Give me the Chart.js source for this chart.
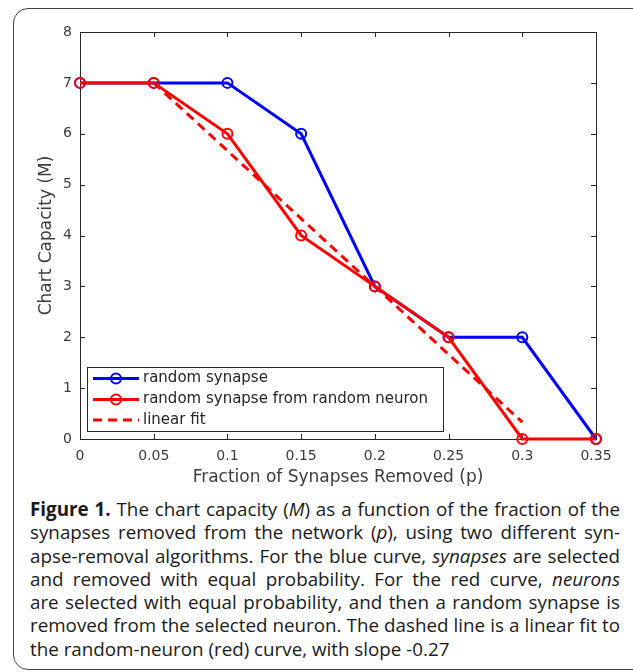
<!DOCTYPE html>
<html>
<head>
<meta charset="utf-8">
<script src="https://cdn.jsdelivr.net/npm/chart.js@4.4.1/dist/chart.umd.min.js"></script>
<style>
  body { margin: 0; background: #fff; width: 633px; height: 672px; overflow: hidden; position: relative; }
  #frame { position: absolute; left: 13px; top: 8px; width: 640px; height: 662px; box-sizing: border-box;
           border: 1.5px solid #444; border-radius: 15px; }
  #wrap { position: absolute; left: 0; top: 0; width: 633px; height: 495px; }
  #caption { position: absolute; left: 30px; top: 498px; width: 590px; font-family: "Open Sans", sans-serif;
             font-size: 18.8px; line-height: 23.3px; color: #1a1a1a; }
  #caption div { text-align: justify; text-align-last: justify; white-space: nowrap; }
  #caption div.last { text-align-last: left; }
</style>
</head>
<body>
<div id="frame"></div>
<div id="wrap"><canvas id="chart" width="633" height="495"></canvas></div>
<div id="caption">
  <div><b>Figure 1.</b> The chart capacity (<i>M</i>) as a function of the fraction of the</div>
  <div>synapses removed from the network (<i>p</i>), using two different syn-</div>
  <div>apse-removal algorithms. For the blue curve, <i>synapses</i> are selected</div>
  <div>and removed with equal probability. For the red curve, <i>neurons</i></div>
  <div>are selected with equal probability, and then a random synapse is</div>
  <div>removed from the selected neuron. The dashed line is a linear fit to</div>
  <div class="last">the random-neuron (red) curve, with slope -0.27</div>
</div>
<script>
// veriler
const pValues = [0, 0.05, 0.1, 0.15, 0.2, 0.25, 0.3, 0.35];
const randomSynapse = [7, 7, 7, 6, 3, 2, 2, 0];
const randomNeuron = [7, 7, 6, 4, 3, 2, 0, 0];
const fitP = [0.05, 0.3];
const fitM = [7.0, 0.33];
const xTickLabels = ['0', '0.05', '0.1', '0.15', '0.2', '0.25', '0.3', '0.35'];
const yTickLabels = ['0', '1', '2', '3', '4', '5', '6', '7', '8'];
const seriesNames = ['random synapse', 'random synapse from random neuron', 'linear fit'];

const axisColor = '#262626';
const tickFont = { family: 'DejaVu Sans', size: 14 };
const titleFont = { family: 'DejaVu Sans', size: 17 };

function toPoints(xs, ys) {
    return xs.map((x, i) => ({ x: x, y: ys[i] }));
}

// kutu ve iceri bakan tick cizgileri
const boxPlugin = {
    id: 'box',
    beforeDatasetsDraw(chart) {
        const { ctx, chartArea: a, scales } = chart;
        ctx.save();
        ctx.strokeStyle = axisColor;
        ctx.lineWidth = 1;
        ctx.strokeRect(a.left + 0.5, a.top + 0.5, a.right - a.left, a.bottom - a.top);
        ctx.beginPath();
        scales.x.ticks.forEach(t => {
            const px = Math.round(scales.x.getPixelForValue(t.value)) + 0.5;
            ctx.moveTo(px, a.bottom); ctx.lineTo(px, a.bottom - 5);
            ctx.moveTo(px, a.top); ctx.lineTo(px, a.top + 5);
        });
        scales.y.ticks.forEach(t => {
            const py = Math.round(scales.y.getPixelForValue(t.value)) + 0.5;
            ctx.moveTo(a.left, py); ctx.lineTo(a.left + 5, py);
            ctx.moveTo(a.right, py); ctx.lineTo(a.right - 5, py);
        });
        ctx.stroke();
        ctx.restore();
    }
};

// grafik icindeki lejant (sol alt)
const legendPlugin = {
    id: 'innerLegend',
    afterDraw(chart) {
        const { ctx } = chart;
        const left = 87.5, top = 367.5, w = 356, h = 64;
        ctx.save();
        ctx.fillStyle = '#fff';
        ctx.fillRect(left, top, w, h);
        ctx.strokeStyle = axisColor;
        ctx.lineWidth = 1;
        ctx.strokeRect(left, top, w, h);
        const rows = [378.5, 399.5, 420];
        chart.data.datasets.forEach((ds, i) => {
            const y = rows[i];
            ctx.strokeStyle = ds.borderColor;
            ctx.lineWidth = ds.borderWidth;
            ctx.setLineDash(ds.borderDash || []);
            ctx.beginPath();
            ctx.moveTo(93, y); ctx.lineTo(139, y);
            ctx.stroke();
            ctx.setLineDash([]);
            if (ds.pointRadius > 0) {
                ctx.lineWidth = ds.pointBorderWidth;
                ctx.beginPath();
                ctx.arc(116, y, ds.pointRadius, 0, Math.PI * 2);
                ctx.stroke();
            }
            ctx.fillStyle = '#262626';
            ctx.font = '15px "DejaVu Sans"';
            ctx.textBaseline = 'middle';
            ctx.fillText(seriesNames[i], 143, y);
        });
        ctx.restore();
    }
};

new Chart(document.getElementById('chart'), {
    type: 'line',
    data: {
        datasets: [
            {
                label: seriesNames[0],
                data: toPoints(pValues, randomSynapse),
                borderColor: '#0000ff', borderWidth: 3,
                pointRadius: 5, pointBorderWidth: 2,
                pointBackgroundColor: 'rgba(0,0,0,0)', pointBorderColor: '#0000ff',
                clip: false, order: 3
            },
            {
                label: seriesNames[1],
                data: toPoints(pValues, randomNeuron),
                borderColor: '#ff0000', borderWidth: 3,
                pointRadius: 5, pointBorderWidth: 2,
                pointBackgroundColor: 'rgba(0,0,0,0)', pointBorderColor: '#ff0000',
                clip: false, order: 1
            },
            {
                label: seriesNames[2],
                data: toPoints(fitP, fitM),
                borderColor: '#ff0000', borderWidth: 3, borderDash: [9, 6],
                pointRadius: 0, clip: false, order: 2
            }
        ]
    },
    options: {
        responsive: false,
        animation: false,
        layout: { padding: { left: 0, top: 32, right: 37, bottom: 0 } },
        plugins: { legend: { display: false }, tooltip: { enabled: false } },
        scales: {
            x: {
                type: 'linear', min: 0, max: 0.35,
                afterFit(scale) { scale.height = 56; },
                grid: { display: false, drawTicks: false },
                border: { display: false },
                ticks: {
                    stepSize: 0.05, padding: 9, color: '#3c3c3c', font: tickFont,
                    callback: (v, i) => xTickLabels[i]
                },
                title: {
                    display: true, text: 'Fraction of Synapses Removed (p)',
                    color: '#3c3c3c', font: titleFont, padding: { top: 0, bottom: 7 }
                }
            },
            y: {
                type: 'linear', min: 0, max: 8,
                afterFit(scale) { scale.width = 80; },
                grid: { display: false, drawTicks: false },
                border: { display: false },
                ticks: {
                    stepSize: 1, padding: 8, color: '#3c3c3c', font: tickFont,
                    callback: (v, i) => yTickLabels[i]
                },
                title: {
                    display: true, text: 'Chart Capacity (M)',
                    color: '#3c3c3c', font: titleFont, padding: { top: 36, bottom: 0 }
                }
            }
        }
    },
    plugins: [boxPlugin, legendPlugin]
});
</script>
</body>
</html>
